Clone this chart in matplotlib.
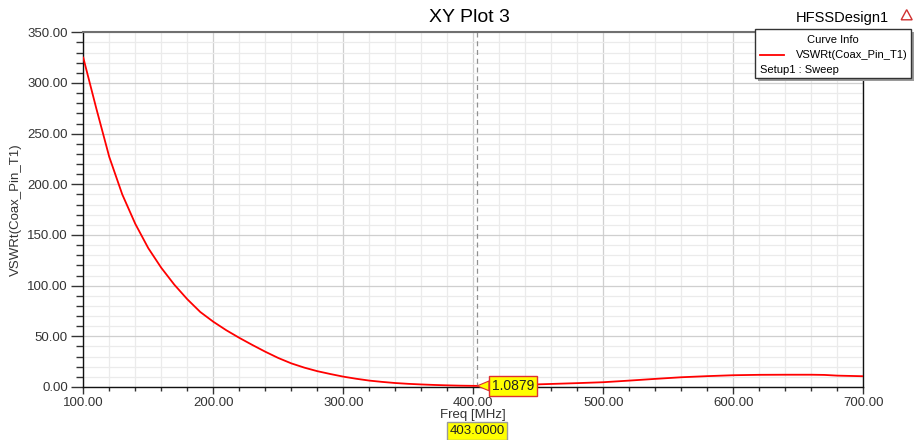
import numpy as np
import matplotlib.pyplot as plt
from matplotlib.ticker import MultipleLocator, FormatStrFormatter
from matplotlib.patches import Rectangle, Polygon

plt.rcParams['font.family'] = ['Liberation Sans', 'DejaVu Sans']

# swept VSWR of the coax pin port
freq_mhz = [100, 110, 120, 130, 140, 150, 160, 170, 180, 190, 200, 210, 220,
            230, 240, 250, 260, 270, 280, 290, 300, 310, 320, 330, 340, 350,
            360, 370, 380, 390, 400, 403, 410, 420, 440, 460, 480, 500, 520,
            540, 560, 580, 600, 620, 640, 660, 670, 680, 700]
vswr = [325.0, 275.0, 227.0, 190.0, 161.0, 137.0, 117.6, 101.0, 86.6, 74.0,
        64.4, 56.0, 48.5, 41.5, 34.8, 28.6, 23.3, 19.1, 15.6, 12.8, 10.2, 8.1,
        6.3, 5.0, 3.9, 3.1, 2.5, 2.0, 1.6, 1.3, 1.12, 1.0879, 1.2, 1.5, 2.2,
        3.0, 3.8, 4.7, 6.3, 8.0, 9.6, 10.7, 11.6, 12.0, 12.1, 12.1, 11.9,
        11.2, 10.6]

marker_freq = 403.0
marker_val = 1.0879

fig = plt.figure(figsize=(9.14, 4.40), dpi=100)
ax = fig.add_axes([0.0911, 0.1205, 0.8535, 0.8061])

ax.plot(freq_mhz, vswr, color='#ff0000', lw=1.3, zorder=3)
ax.axvline(marker_freq, color='#909090', lw=0.9, ls=(0, (4, 3)), zorder=2)

ax.set_xlim(100, 700)
ax.set_ylim(0, 350)
ax.xaxis.set_major_locator(MultipleLocator(100))
ax.xaxis.set_minor_locator(MultipleLocator(20))
ax.yaxis.set_major_locator(MultipleLocator(50))
ax.yaxis.set_minor_locator(MultipleLocator(10))
ax.xaxis.set_major_formatter(FormatStrFormatter('%.2f'))
ax.yaxis.set_major_formatter(FormatStrFormatter('%.2f'))

ax.grid(which='major', color='#cfcfcf', lw=0.9)
ax.grid(which='minor', color='#ebebeb', lw=0.9)
ax.set_axisbelow(True)

ax.tick_params(which='major', direction='out', length=9, width=1.0,
               color='#333333', labelsize=9.5, labelcolor='#333333', pad=2)
ax.tick_params(which='minor', direction='out', length=5, width=1.0,
               color='#333333')
ax.tick_params(axis='x', which='major', length=5)
ax.tick_params(axis='x', which='minor', length=3)

for side in ['left', 'bottom', 'right']:
    ax.spines[side].set_color('#111111')
    ax.spines[side].set_linewidth(1.0)
ax.spines['top'].set_color('#707070')
ax.spines['top'].set_linewidth(1.5)

ax.set_xlabel('Freq [MHz]', fontsize=9.5, color='#333333', labelpad=0)
ax.set_ylabel('VSWRt(Coax_Pin_T1)', fontsize=9.5, color='#333333', labelpad=4)

fig.text(0.514, 0.960, 'XY Plot 3', ha='center', va='center', fontsize=14)
fig.text(0.922, 0.960, 'HFSSDesign1', ha='center', va='center', fontsize=10.5)
fig.patches.append(Polygon([[0.986, 0.955], [0.992, 0.978], [0.998, 0.955]],
                           closed=True, fill=False, edgecolor='#d03030',
                           lw=1.0, transform=fig.transFigure))

# marker value flag
ax.annotate(f'{marker_val:.4f}', xy=(marker_freq, marker_val),
            xytext=(15, 0), textcoords='offset pixels', ha='left', va='center',
            fontsize=10, color='#222222', zorder=5,
            bbox=dict(boxstyle='square,pad=0.2', fc='#ffff00', ec='#e03030',
                      lw=1.0),
            arrowprops=dict(arrowstyle='wedge,tail_width=0.7', fc='#ffff00',
                            ec='#e03030', lw=0.8, shrinkA=0, shrinkB=0))

# marker frequency flag below the axis label
ax.annotate(f'{marker_freq:.4f}', xy=(marker_freq, 0), xycoords=('data', 'axes fraction'),
            xytext=(0, -44), textcoords='offset pixels', ha='center', va='center',
            fontsize=9.5, color='#222222',
            bbox=dict(boxstyle='square,pad=0.2', fc='#ffff00', ec='#9a9a9a', lw=1.0),
            annotation_clip=False)

# curve info box
bx, by, bw, bh = 0.826, 0.822, 0.171, 0.111
fig.patches.append(Rectangle((bx + 0.003, by - 0.006), bw, bh, transform=fig.transFigure,
                             fc='#9a9a9a', ec='none', zorder=8))
fig.patches.append(Rectangle((bx, by), bw, bh, transform=fig.transFigure,
                             fc='white', ec='#333333', lw=1.0, zorder=9))
fig.text(bx + bw / 2, by + bh - 0.023, 'Curve Info', ha='center', va='center',
         fontsize=8, zorder=10)
fig.lines.append(plt.Line2D([bx + 0.005, bx + 0.032], [by + 0.052, by + 0.052],
                            transform=fig.transFigure, color='#ff0000', lw=1.3, zorder=10))
fig.text(bx + bw - 0.004, by + 0.052, 'VSWRt(Coax_Pin_T1)', ha='right', va='center',
         fontsize=8, zorder=10)
fig.text(bx + 0.005, by + 0.02, 'Setup1 : Sweep', ha='left', va='center',
         fontsize=8, zorder=10)

fig.savefig('out.png', dpi=100)
